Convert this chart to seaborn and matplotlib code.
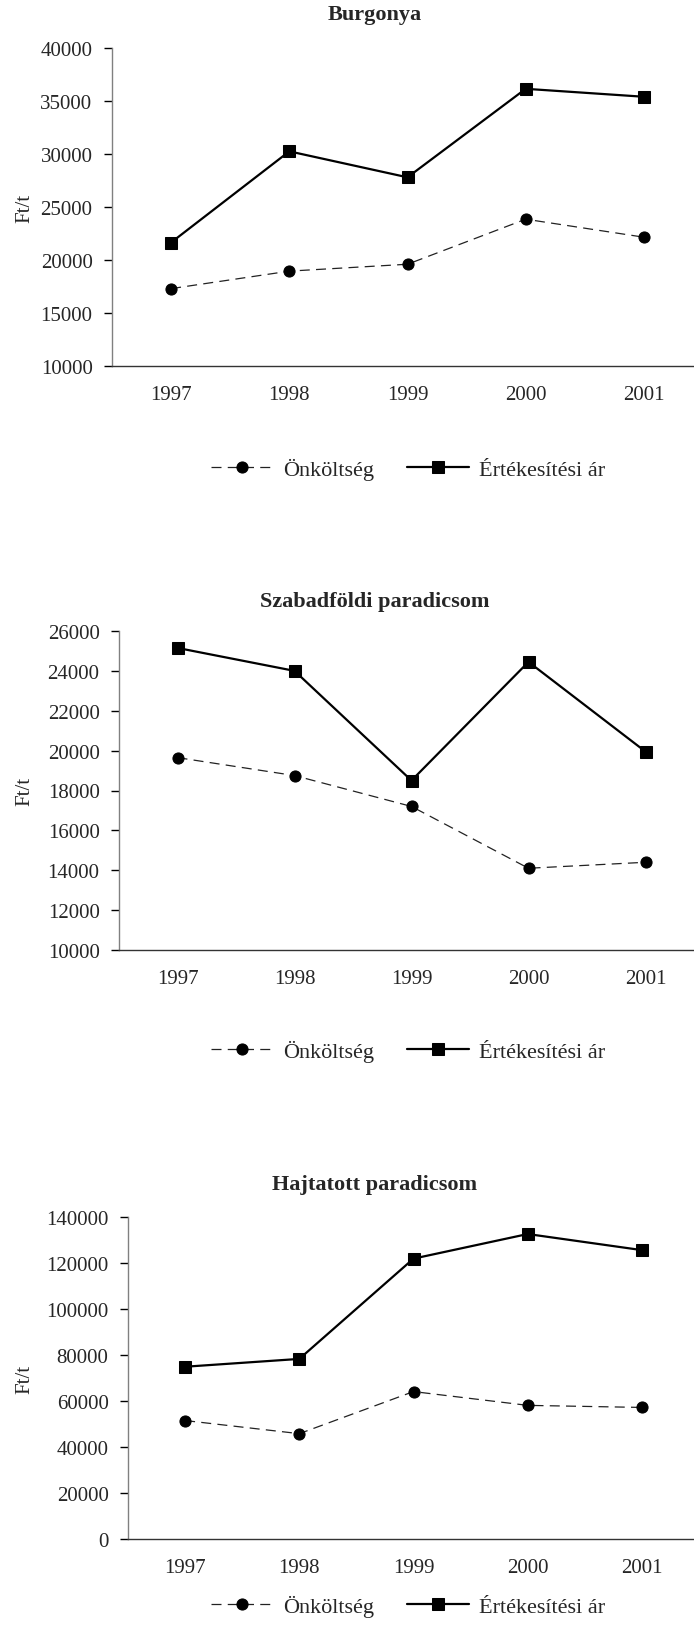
import numpy as np
import pandas as pd
import seaborn as sns
import matplotlib.pyplot as plt
from matplotlib.ticker import FixedLocator, NullFormatter

# Data
years = [1997, 1998, 1999, 2000, 2001]

burgonya_onk = [17300, 18950, 19600, 23850, 22150]
burgonya_ert = [21650, 30250, 27800, 36150, 35400]

szabad_onk = [19650, 18750, 17200, 14100, 14400]
szabad_ert = [25150, 24000, 18500, 24450, 19950]

hajtatott_onk = [51500, 45800, 64100, 58100, 57200]
hajtatott_ert = [74900, 78300, 121900, 132600, 125600]

titles = ['Burgonya', 'Szabadföldi paradicsom', 'Hajtatott paradicsom']
series_names = ['Önköltség', 'Értékesítési ár']
ylabel = 'Ft/t'

sns.set_style('white')
plt.rcParams['font.family'] = ['Liberation Serif', 'DejaVu Serif']

W, H = 694, 1649
fig = plt.figure(figsize=(W / 100, H / 100), dpi=100)

TICK_FS = 15
TITLE_FS = 16
LEGEND_FS = 16

# panel layout in pixels: left spine x, top y, bottom y, axis right end x
panels = [
    dict(onk=burgonya_onk, ert=burgonya_ert, left=112, top=49, bottom=367, right=703,
         ylim=(10000, 40000), step=5000, title_y=15, legend_y=470),
    dict(onk=szabad_onk, ert=szabad_ert, left=119, top=632, bottom=951, right=704,
         ylim=(10000, 26000), step=2000, title_y=602, legend_y=1052),
    dict(onk=hajtatott_onk, ert=hajtatott_ert, left=128, top=1218, bottom=1540, right=699,
         ylim=(0, 140000), step=20000, title_y=1185, legend_y=1607),
]

for p, title in zip(panels, titles):
    ax = fig.add_axes([p['left'] / W, 1 - p['bottom'] / H,
                       (p['right'] - p['left']) / W, (p['bottom'] - p['top']) / H])

    sns.lineplot(x=years, y=p['onk'], ax=ax, color='#222222', linewidth=0.9,
                 linestyle=(0, (8, 5)), marker='o', markersize=8,
                 markeredgecolor='black', markerfacecolor='black', label=series_names[0])
    sns.lineplot(x=years, y=p['ert'], ax=ax, color='black', linewidth=1.6,
                 marker='s', markersize=8.5, markeredgecolor='black',
                 markerfacecolor='black', label=series_names[1])

    ax.set_xlim(years[0] - 0.5, years[-1] + 0.5)
    ax.set_ylim(*p['ylim'])
    ax.set_yticks(np.arange(p['ylim'][0], p['ylim'][1] + 1, p['step']))

    # category style x axis: ticks between years, labels at centers
    ax.xaxis.set_major_locator(FixedLocator([y - 0.5 for y in years] + [years[-1] + 0.5]))
    ax.xaxis.set_major_formatter(NullFormatter())
    ax.xaxis.set_minor_locator(FixedLocator(years))
    ax.set_xticklabels([str(y) for y in years], minor=True)
    ax.tick_params(axis='x', which='major', direction='out', length=6, width=1, color='black')
    ax.tick_params(axis='x', which='minor', length=0, pad=14, labelsize=TICK_FS)
    ax.tick_params(axis='y', direction='out', length=6, width=1, color='black',
                   pad=8, labelsize=TICK_FS, left=True)

    for side in ['top', 'right']:
        ax.spines[side].set_visible(False)
    ax.spines['left'].set_color('#808080')
    ax.spines['left'].set_linewidth(1)
    ax.spines['bottom'].set_color('#333333')
    ax.spines['bottom'].set_linewidth(1)
    ax.grid(False)
    ax.set_xlabel('')
    ax.set_ylabel('')

    fig.text(25 / W, 1 - ((p['top'] + p['bottom']) / 2) / H, ylabel, rotation=90,
             ha='center', va='center', fontsize=TICK_FS)
    fig.text(375 / W, 1 - p['title_y'] / H, title, ha='center', va='center',
             fontsize=TITLE_FS, fontweight='bold')

    handles, labels = ax.get_legend_handles_labels()
    ax.legend(handles, labels, loc='center', bbox_to_anchor=(408 / W, 1 - p['legend_y'] / H),
              bbox_transform=fig.transFigure, ncol=2, frameon=False, fontsize=LEGEND_FS,
              handlelength=2.8, handletextpad=0.45, columnspacing=1.5)

fig.savefig('out.png', dpi=100)
plt.close(fig)
